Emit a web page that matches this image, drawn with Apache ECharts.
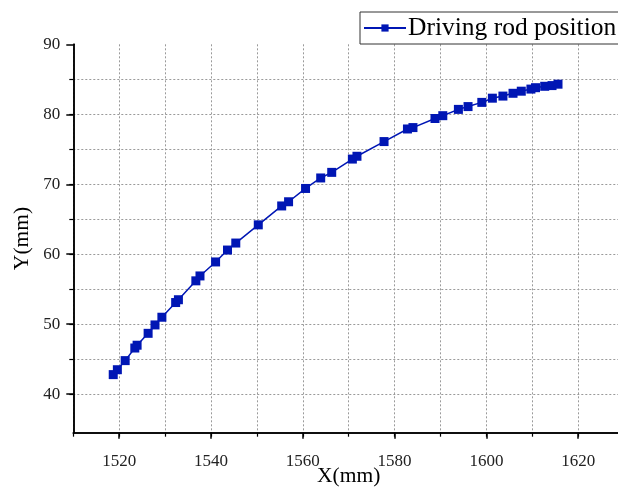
<!DOCTYPE html>
<html>
<head>
<meta charset="utf-8">
<script src="https://cdn.jsdelivr.net/npm/echarts@6/dist/echarts.min.js"></script>
<style>
  html, body { margin: 0; padding: 0; background: #fff; }
  #chart { width: 618px; height: 489px; }
</style>
</head>
<body>
<div id="chart"></div>
<script>
// Driving rod trajectory, X/Y positions in mm
const xValues = [
  1518.7, 1519.6, 1521.3, 1523.4, 1523.9, 1526.3, 1527.8, 1529.3, 1532.3, 1532.9,
  1536.7, 1537.6, 1541.0, 1543.6, 1545.4, 1550.3, 1555.4, 1556.9, 1560.6, 1563.9,
  1566.3, 1570.8, 1571.8, 1577.7, 1582.8, 1584.0, 1588.8, 1590.5, 1593.9, 1596.0,
  1599.0, 1601.3, 1603.6, 1605.8, 1607.6, 1609.7, 1610.7, 1612.7, 1614.3, 1615.6
];
const yValues = [
  42.8, 43.5, 44.8, 46.6, 47.0, 48.7, 49.9, 51.0, 53.1, 53.5,
  56.2, 56.9, 58.9, 60.6, 61.6, 64.2, 66.9, 67.5, 69.4, 70.9,
  71.7, 73.6, 74.0, 76.1, 77.9, 78.1, 79.4, 79.8, 80.7, 81.1,
  81.7, 82.3, 82.6, 83.0, 83.3, 83.6, 83.8, 84.0, 84.1, 84.3
];
const seriesName = 'Driving rod position';

// Axis ticks and labels
const xLabelTicks = [1520, 1540, 1560, 1580, 1600, 1620];
const xMinorTicks = [1510, 1520, 1530, 1540, 1550, 1560, 1570, 1580, 1590, 1600, 1610, 1620];
const yLabelTicks = [40, 50, 60, 70, 80, 90];
const yMinorTicks = [40, 45, 50, 55, 60, 65, 70, 75, 80, 85];

const FONT = '"Liberation Serif", "Times New Roman", serif';
const points = xValues.map((x, i) => [x, yValues[i]]);
const plain = v => String(v);

const gridLine = { show: true, lineStyle: { color: '#9a9a9a', width: 1, type: [2, 2] } };
const axisLine = { show: true, onZero: false, lineStyle: { color: '#000', width: 1.5 } };

const chart = echarts.init(document.getElementById('chart'), null, { renderer: 'canvas' });
chart.setOption({
  animation: false,
  backgroundColor: '#fff',
  grid: {
    left: 73.3, top: 44.3, width: 550.8, height: 388.4,
    containLabel: false, outerBoundsMode: 'none'
  },
  legend: {
    left: 360, top: 12,
    padding: [3, 12, 3, 3],
    borderColor: '#333', borderWidth: 1,
    itemWidth: 42, itemHeight: 9, itemGap: 0,
    textStyle: { fontFamily: FONT, fontSize: 25.5, color: '#000', padding: [0, 0, 0, -3] },
    data: [seriesName]
  },
  xAxis: [
    {
      type: 'value', min: 1510, max: 1630, interval: 10,
      name: 'X(mm)', nameLocation: 'middle', nameGap: 33, nameMoveOverlap: false,
      nameTextStyle: { fontFamily: FONT, fontSize: 21.5, color: '#000' },
      axisLine: axisLine,
      axisTick: { show: true, length: 4, customValues: xMinorTicks, lineStyle: { color: '#000', width: 1.2 } },
      axisLabel: { customValues: xLabelTicks, formatter: plain, margin: 20, fontFamily: FONT, fontSize: 17, color: '#222' },
      splitLine: gridLine
    },
    {
      type: 'value', min: 1510, max: 1630, position: 'bottom', offset: 0,
      axisLine: axisLine,
      axisTick: { show: true, length: 6, customValues: xLabelTicks, lineStyle: { color: '#000', width: 1.5 } },
      axisLabel: { show: false },
      splitLine: { show: false }
    }
  ],
  yAxis: [
    {
      type: 'value', min: 34.5, max: 90,
      name: 'Y(mm)', nameLocation: 'middle', nameGap: 40, nameRotate: 90, nameMoveOverlap: false,
      nameTextStyle: { fontFamily: FONT, fontSize: 21.5, color: '#000' },
      axisLine: axisLine,
      axisTick: { show: true, length: 4, customValues: yMinorTicks, lineStyle: { color: '#000', width: 1.2 } },
      axisLabel: { customValues: yLabelTicks, formatter: plain, margin: 13, fontFamily: FONT, fontSize: 17, color: '#222' },
      splitLine: gridLine
    },
    {
      type: 'value', min: 34.5, max: 90, position: 'left', offset: 0,
      axisLine: axisLine,
      axisTick: { show: true, length: 7, customValues: yLabelTicks, lineStyle: { color: '#000', width: 1.5 } },
      axisLabel: { show: false },
      splitLine: { show: false }
    }
  ],
  series: [{
    name: seriesName,
    type: 'line',
    xAxisIndex: 0, yAxisIndex: 0,
    data: points,
    symbol: 'rect',
    symbolSize: 9,
    showSymbol: true,
    itemStyle: { color: '#0016b4' },
    lineStyle: { color: '#0016b4', width: 1.5 }
  }]
});
</script>
</body>
</html>
